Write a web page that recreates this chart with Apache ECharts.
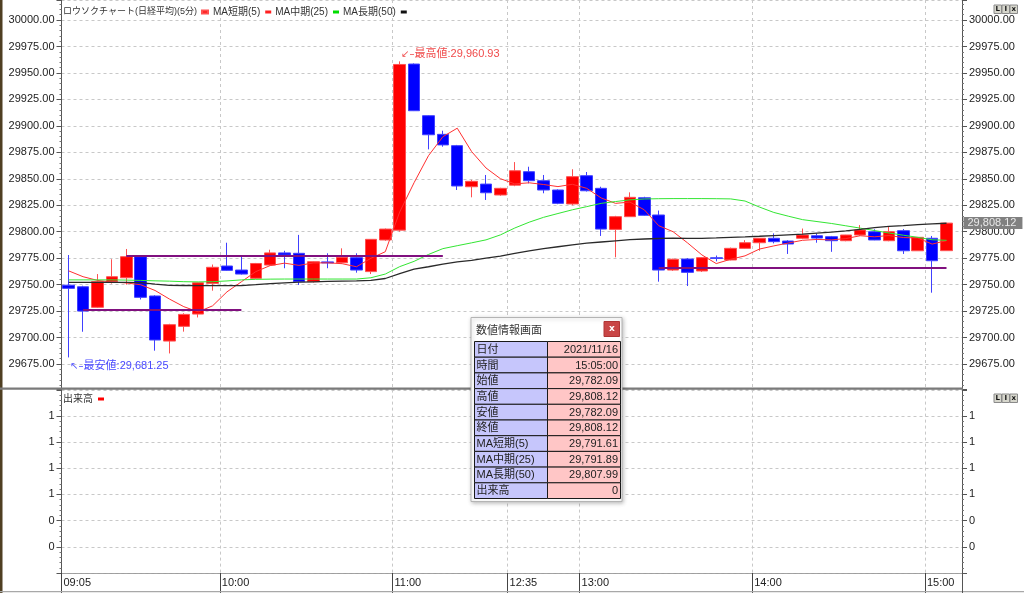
<!DOCTYPE html>
<html><head><meta charset="utf-8">
<script src="https://cdn.jsdelivr.net/npm/echarts@6/dist/echarts.min.js"></script>
<style>html,body{margin:0;padding:0;background:#fff;}#c{width:1024px;height:593px;}</style>
</head><body><div id="c"></div>
<script>
// ---------- data ----------
const times = ['09:05','09:10','09:15','09:20','09:25','09:30','09:35','09:40','09:45','09:50','09:55',
 '10:00','10:05','10:10','10:15','10:20','10:25','10:30','10:35','10:40','10:45','10:50','10:55',
 '11:00','11:05','11:10','11:15','11:20','11:25','11:30','11:35',
 '12:35','12:40','12:45','12:50','12:55',
 '13:00','13:05','13:10','13:15','13:20','13:25','13:30','13:35','13:40','13:45','13:50','13:55',
 '14:00','14:05','14:10','14:15','14:20','14:25','14:30','14:35','14:40','14:45','14:50','14:55',
 '15:00','15:05'];
const opens = [29749.5,29748,29728.6,29753,29756.5,29776.4,29739.3,29696.7,29710.6,29722.2,29751.2,
 29767.6,29763.8,29756,29768.5,29780,29779.6,29752.8,29771.5,29770.7,29775.5,29762.3,29792.2,
 29801.5,29958.4,29909.6,29892,29881.3,29842.5,29845,29834.7,
 29844,29856.7,29848.2,29839.4,29826.2,
 29852.9,29841,29802.2,29814.2,29832.1,29815.8,29763.8,29774.2,29762.9,29775.4,29773.3,29784.3,
 29789.6,29793.8,29791.2,29793.8,29796.2,29795.3,29791.5,29796.9,29800,29791.5,29801,29782,
 29793.8,29782.09];
const closes = [29746.5,29725,29752.8,29757.5,29776.4,29738,29697.7,29712.2,29721.9,29751.8,29766.4,
 29763.5,29760,29770,29780,29778,29752.8,29771.7,29770.5,29775.8,29763.8,29792.8,29802.5,
 29958,29914.3,29891.6,29882,29843.2,29847.6,29836.8,29841,
 29857.6,29848.2,29839.4,29826.8,29852,
 29838.7,29802.5,29814.2,29832.5,29815.5,29763.8,29774,29761.6,29775.5,29774.8,29784.3,29789.6,
 29793.8,29790.6,29788.4,29796.9,29794,29791.5,29796.9,29801.6,29792.2,29800,29782,29794.7,
 29772.6,29808.12];
const lows = [29681.25,29705.5,29728,29751,29750,29736,29687.6,29685,29705.6,29719,29744.3,
 29763,29759.5,29755.5,29768,29765.5,29749.7,29752,29765.5,29770,29761.3,29760,29791.5,
 29800,29914,29877.8,29880.3,29839.4,29832.5,29830,29834,
 29843,29845.7,29836.3,29826,29825,
 29838,29796,29775.8,29814,29815,29752.8,29763,29748.7,29762,29772,29773,29784,
 29782,29789,29779,29793,29789.6,29781,29791,29796,29792,29791,29779,29782,
 29742.4,29782.09];
const highs = [29778,29749,29760,29774,29783.7,29777,29740,29713,29723,29752,29769,
 29789.6,29777,29770.5,29783,29782,29797,29772,29779.6,29784.3,29779.6,29793,29803,
 29960.93,29959,29910,29895.4,29882,29849,29853.6,29841.5,
 29865.8,29861.4,29853.6,29840,29859,
 29856.4,29842.5,29815,29837.2,29833,29820,29774.5,29775,29776,29777.5,29785,29792,
 29794,29798.4,29792,29803,29798.4,29796,29797,29806.3,29802.3,29804.7,29802.5,29795,
 29796,29808.12];
const ma5 = [29763,29757.5,29754,29752.5,29751.6,29749.9,29744.5,29736.4,29729.2,29724.3,29730,
 29743.2,29752.7,29762.3,29768,29770.3,29768.2,29770.5,29770.6,29769.8,29766.9,29774.9,29781.1,
 29818.6,29846.3,29871.8,29889.7,29897.8,29875.7,29860.2,29850.1,
 29845.2,29846.2,29844.6,29842.6,29844.8,
 29841,29831.9,29826.8,29828,29820.7,29805.7,29800,29789.5,29778.1,29769.9,29774,29777.2,
 29783.6,29786.6,29789.3,29791.9,29792.7,29792.3,29793.5,29796.2,29795.2,29796.4,29794.5,29794.1,
 29788.3,29791.61];
const ma25 = [29754.5,29754.5,29754.5,29754.5,29754.3,29754,29753.6,29753.3,29752.8,29752.6,29752.8,
 29753.5,29754.5,29755,29755.2,29755.3,29755.3,29755.3,29755.3,29755.3,29755.3,29756.5,29760,
 29767,29772,29778.5,29784,29786.8,29789.5,29792.3,29797,
 29803.5,29809,29813.6,29817.2,29820.7,
 29823.7,29826.8,29828.5,29830.1,29830.9,29831.2,29831.3,29831.3,29831.3,29831.2,29831,29829,
 29823.3,29818.2,29814.7,29811.4,29809.6,29807.8,29805.6,29803.4,29801.1,29798.8,29796.7,29794.7,
 29792.4,29791.89];
const ma50 = [29752.2,29752.2,29752.2,29752.2,29752.1,29752,29750.5,29749.3,29749.2,29749.1,29749,
 29749,29749.1,29750,29751,29751.7,29752.3,29752.7,29753,29753.3,29753.6,29754.1,29755.8,
 29760.4,29764.6,29766.9,29769.4,29771.5,29773,29775,29777,
 29779.5,29782,29784,29785.8,29787.6,
 29789.2,29790.3,29791.4,29792.5,29793.1,29793.6,29793.9,29793.8,29793.8,29794.1,29794.6,29795.1,
 29795.7,29796.4,29797.1,29797.8,29798.7,29799.6,29800.8,29802.3,29803.8,29805,29805.8,29806.7,
 29807.5,29807.99];
const volumes = [0,0,0,0,0,0,0,0,0,0,0,0,0,0,0,0,0,0,0,0,0,0,0,0,0,0,0,0,0,0,0,
 0,0,0,0,0,0,0,0,0,0,0,0,0,0,0,0,0,0,0,0,0,0,0,0,0,0,0,0,0,0,0];
const tickLabels = ['09:05','10:00','11:00','12:35','13:00','14:00','15:00'];
const lineFrom = ['09:25','09:10','13:25'];
const lineTo = ['11:15','10:05','15:05'];
const lineValue = [29777,29726,29765.6];
const tradeDate = '2021/11/16';
const candleName = 'ロウソクチャート(日経平均)(5分)';
const maNames = ['MA短期(5)','MA中期(25)','MA長期(50)'];
const volName = '出来高';

// ---------- helpers ----------
const FF = "'Liberation Sans','Noto Sans CJK JP',sans-serif";
const fmt = v => v.toLocaleString('en-US',{minimumFractionDigits:2,maximumFractionDigits:2});
const last = times.length - 1;
const ohlc = opens.map((o,i)=>[o, closes[i], lows[i], highs[i]]);
const bounds = times.concat(['']);
const isTick = (i, v) => tickLabels.indexOf(v) >= 0;
let hiIdx = 0, loIdx = 0;
highs.forEach((h,i)=>{ if (h > highs[hiIdx]) hiIdx = i; });
lows.forEach((l,i)=>{ if (l < lows[loIdx]) loIdx = i; });

const P_MIN = 29650, P_MAX = 30018.9, V_MIN = 0, V_MAX = 1.4;
const G0 = {left:61.5, top:0, height:390.5};
const G1 = {left:61.5, top:389.6, height:183.4};
const candleW = 892.2, fullW = 900.5;
const gridLine = {type:[3,3], color:'#c8c8c8', width:1};

function priceAxis(pos, split){
  return {type:'value', gridIndex:2, position:pos, min:P_MIN, max:P_MAX, interval:25,
    axisLine:{show:true, lineStyle:{color:'#555'}},
    axisTick:{show:true, length:5, lineStyle:{color:'#555'}},
    minorTick:{show:true, splitNumber:5, length:2, lineStyle:{color:'#777'}},
    axisLabel:{formatter:v=>v.toFixed(2), margin:7, fontSize:11, color:'#222', fontFamily:FF, showMaxLabel:false, showMinLabel:false},
    splitLine:{show:split, lineStyle:gridLine}, minorSplitLine:{show:false}};
}
function volAxis(pos, split){
  return {type:'value', gridIndex:3, position:pos, min:V_MIN, max:V_MAX, interval:0.2,
    axisLine:{show:true, lineStyle:{color:'#555'}},
    axisTick:{show:true, length:5, lineStyle:{color:'#555'}},
    minorTick:{show:true, splitNumber:5, length:2, lineStyle:{color:'#777'}},
    axisLabel:{formatter:v=>String(Math.round(v)), margin:7, fontSize:11, color:'#222', fontFamily:FF, showMaxLabel:false, showMinLabel:false},
    splitLine:{show:split, lineStyle:gridLine}};
}

// ---------- chrome (graphic) ----------
const graphics = [];
graphics.push({type:'rect', z:50, shape:{x:0,y:0,width:2.5,height:593}, style:{fill:'#4f3f22'}});
graphics.push({type:'rect', z:50, shape:{x:0,y:387.5,width:963,height:2.3}, style:{fill:'#7a7a7a'}});
graphics.push({type:'rect', z:50, shape:{x:0,y:591,width:1024,height:1.2}, style:{fill:'#a8a8a8'}});
graphics.push({type:'line', z:50, shape:{x1:962.5,y1:573,x2:962.5,y2:593}, style:{stroke:'#555', lineWidth:1}});
function buttons(y){
  ['L','I','x'].forEach((t,k)=>{
    const x = 994 + k*8;
    graphics.push({type:'rect', z:60, shape:{x:x, y:y, width:7.5, height:8.5}, style:{fill:'#d6d6cc', stroke:'#8a8a8a', lineWidth:1}});
    graphics.push({type:'text', z:61, style:{text:t, x:x+3.75, y:y+4.6, fill:'#111', font:'bold 7px "DejaVu Sans"', align:'center', verticalAlign:'middle'}});
  });
}
buttons(5); buttons(394);

// info panel
const infoLabels = ['日付','時間','始値','高値','安値','終値', maNames[0], maNames[1], maNames[2], volName];
const infoValues = [tradeDate, times[last]+':00', fmt(opens[last]), fmt(highs[last]), fmt(lows[last]), fmt(closes[last]),
  fmt(ma5[last]), fmt(ma25[last]), fmt(ma50[last]), String(volumes[last])];
graphics.push({type:'rect', z:100, shape:{x:471, y:317.5, width:151, height:184}, style:{fill:'#ffffff', stroke:'#b4b4b4', lineWidth:1, shadowBlur:4, shadowColor:'rgba(0,0,0,0.25)', shadowOffsetX:1, shadowOffsetY:1}});
graphics.push({type:'text', z:101, style:{text:'数値情報画面', x:476, y:329.5, fill:'#333', font:'11px "Noto Sans CJK JP"', align:'left', verticalAlign:'middle'}});
graphics.push({type:'rect', z:101, shape:{x:604, y:321.5, width:15.5, height:15}, style:{fill:'#c94646', stroke:'#b03535', lineWidth:1}});
graphics.push({type:'text', z:102, style:{text:'x', x:611.8, y:328.5, fill:'#fff', font:'bold 9px "DejaVu Sans"', align:'center', verticalAlign:'middle'}});
const rowH = 15.7, ty0 = 341.5, cx0 = 474.5, cw = 73;
infoLabels.forEach((lab,k)=>{
  const y = ty0 + k*rowH;
  graphics.push({type:'rect', z:101, shape:{x:cx0, y:y, width:cw, height:rowH}, style:{fill:'#c6c6fc', stroke:'#1a1a1a', lineWidth:1}});
  graphics.push({type:'rect', z:101, shape:{x:cx0+cw, y:y, width:cw, height:rowH}, style:{fill:'#ffc6c6', stroke:'#1a1a1a', lineWidth:1}});
  graphics.push({type:'text', z:102, style:{text:lab, x:cx0+2, y:y+rowH/2+0.5, fill:'#222', font:"11px 'Liberation Sans','Noto Sans CJK JP'", align:'left', verticalAlign:'middle'}});
  graphics.push({type:'text', z:102, style:{text:infoValues[k], x:cx0+2*cw-2.5, y:y+rowH/2+0.5, fill:'#222', font:"11px 'Liberation Sans','Noto Sans CJK JP'", align:'right', verticalAlign:'middle'}});
});

// ---------- chart ----------
const chart = echarts.init(document.getElementById('c'), null, {renderer:'canvas'});
const legendText = {fontSize:10, color:'#333', fontFamily:FF, rich:{k:{fontSize:9, color:'#333', fontFamily:FF}}};
const option = {
  animation:false,
  backgroundColor:'#ffffff',
  textStyle:{fontFamily:FF},
  legend:[
    {left:63, top:7, padding:0, align:'right', icon:'rect', itemWidth:6, itemHeight:3, itemGap:4, selectedMode:false,
     textStyle:legendText,
     formatter: name => name === candleName ? '{k|' + name + '}' : name,
     data:[candleName].concat(maNames)},
    {left:63, top:394, padding:0, align:'right', icon:'rect', itemWidth:6, itemHeight:3, itemGap:4, selectedMode:false,
     textStyle:{fontSize:10, color:'#333', fontFamily:FF}, data:[volName]}
  ],
  grid:[
    {left:G0.left, top:G0.top, width:candleW, height:G0.height, containLabel:false, outerBoundsMode:'none'},
    {left:G1.left, top:G1.top, width:candleW, height:G1.height, containLabel:false, outerBoundsMode:'none'},
    {left:G0.left, top:G0.top, width:fullW, height:G0.height, containLabel:false, outerBoundsMode:'none'},
    {left:G1.left, top:G1.top, width:fullW, height:G1.height, containLabel:false, outerBoundsMode:'none'}
  ],
  xAxis:[
    {type:'category', gridIndex:0, data:times, boundaryGap:true, show:false},
    {type:'category', gridIndex:0, data:bounds, boundaryGap:false,
     axisLine:{show:false}, axisTick:{show:false}, axisLabel:{show:false},
     splitLine:{show:true, interval:isTick, lineStyle:gridLine}},
    {type:'category', gridIndex:1, data:times, boundaryGap:true, show:false},
    {type:'category', gridIndex:1, data:bounds, boundaryGap:false, position:'bottom',
     axisLine:{show:false},
     axisTick:{show:true, interval:isTick, length:20, lineStyle:{color:'#444'}},
     axisLabel:{show:true, interval:isTick, align:'left', padding:[0,0,0,2], margin:4, fontSize:11, color:'#222', fontFamily:FF},
     splitLine:{show:true, interval:isTick, lineStyle:gridLine}},
    {type:'value', gridIndex:2, min:0, max:1, show:false},
    {type:'value', gridIndex:3, min:0, max:1, axisLine:{show:true, lineStyle:{type:'dotted', color:'#999'}},
     axisTick:{show:false}, axisLabel:{show:false}, splitLine:{show:false}}
  ],
  yAxis:[
    {type:'value', gridIndex:0, min:P_MIN, max:P_MAX, show:false, splitLine:{show:false}},
    priceAxis('left', true),
    priceAxis('right', false),
    {type:'value', gridIndex:1, min:V_MIN, max:V_MAX, show:false, splitLine:{show:false}},
    volAxis('left', true),
    volAxis('right', false)
  ],
  series:[
    {name:candleName, type:'candlestick', xAxisIndex:0, yAxisIndex:0, data:ohlc, barWidth:12, z:2,
     itemStyle:{color:'#ff0000', color0:'#0000ff', borderColor:'#ff5050', borderColor0:'#4040ff', borderWidth:1},
     markLine:{silent:true, symbol:['none','none'], animation:false, label:{show:false},
       lineStyle:{color:'#80107f', width:2, type:'solid'},
       data: lineValue.map((v,k)=>[{coord:[lineFrom[k], v]},{coord:[lineTo[k], v]}])},
     markPoint:{silent:true, animation:false, symbol:'circle', symbolSize:1, itemStyle:{color:'rgba(0,0,0,0)'},
       data:[
         {coord:[times[hiIdx], highs[hiIdx]], label:{show:true, position:'right', distance:1, offset:[0,-7],
           formatter:()=> '{ar|↙–}{tx|最高値:' + fmt(highs[hiIdx]) + '}',
           rich:{ar:{fontSize:10, fontFamily:"'DejaVu Sans'", color:'#f04a4a'}, tx:{fontSize:11, color:'#f04a4a', fontFamily:FF}}}},
         {coord:[times[loIdx], lows[loIdx]], label:{show:true, position:'right', distance:1, offset:[0,8.6],
           formatter:()=> '{ar|↖–}{tx|最安値:' + fmt(lows[loIdx]) + '}',
           rich:{ar:{fontSize:10, fontFamily:"'DejaVu Sans'", color:'#4848ff'}, tx:{fontSize:11, color:'#4848ff', fontFamily:FF}}}},
         {coord:[times[last], closes[last]], label:{show:true, position:'right', distance:16.5,
           formatter:()=> fmt(closes[last]), backgroundColor:'#808080', color:'#e8e8e8', fontSize:11, fontFamily:FF,
           padding:[1,6,0,4], lineHeight:11}}
       ]}},
    {name:maNames[0], type:'line', xAxisIndex:0, yAxisIndex:0, data:ma5, showSymbol:false, symbol:'none', z:4, silent:true,
     color:'#ff2020', lineStyle:{width:1, color:'#ff3030'}},
    {name:maNames[1], type:'line', xAxisIndex:0, yAxisIndex:0, data:ma25, showSymbol:false, symbol:'none', z:4, silent:true,
     color:'#00dd00', lineStyle:{width:1, color:'#33e633'}},
    {name:maNames[2], type:'line', xAxisIndex:0, yAxisIndex:0, data:ma50, showSymbol:false, symbol:'none', z:4, silent:true,
     color:'#111111', lineStyle:{width:1.3, color:'#2a2a2a'}},
    {name:volName, type:'bar', xAxisIndex:2, yAxisIndex:3, data:volumes, color:'#ff0000', barWidth:8}
  ],
  graphic: graphics
};
chart.setOption(option);
</script>
</body></html>
